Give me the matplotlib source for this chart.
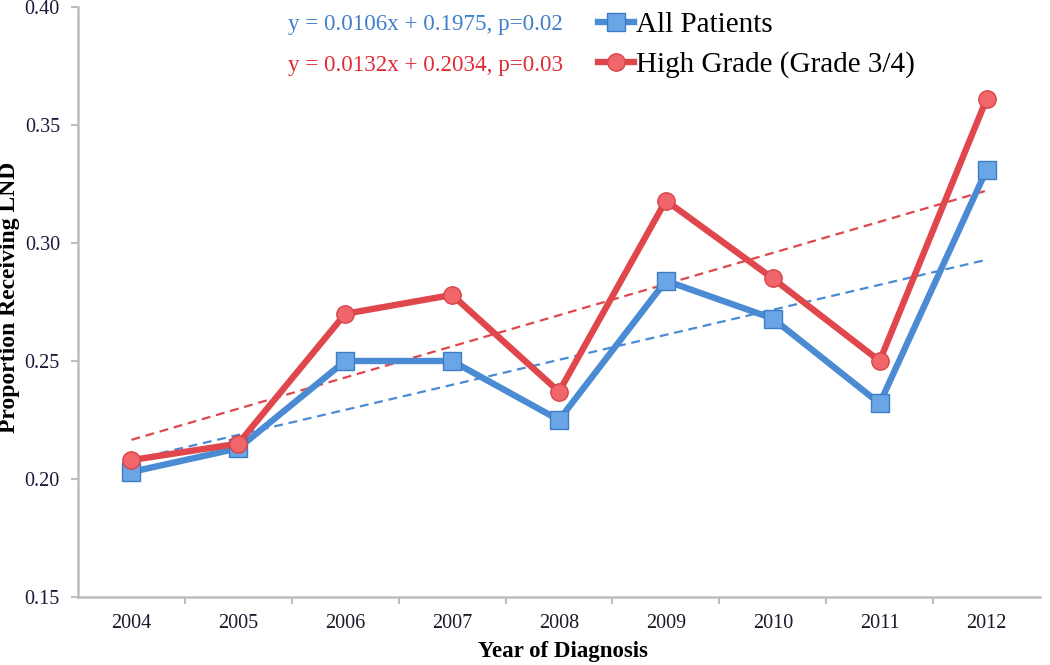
import matplotlib
matplotlib.use("Agg")
import matplotlib.pyplot as plt
from matplotlib.lines import Line2D
import numpy as np

years = ["2004", "2005", "2006", "2007", "2008", "2009", "2010", "2011", "2012"]
all_patients = [0.203, 0.213, 0.250, 0.250, 0.225, 0.284, 0.268, 0.232, 0.331]
high_grade = [0.208, 0.215, 0.270, 0.278, 0.237, 0.318, 0.285, 0.250, 0.361]
all_slope, all_intercept = 0.0106, 0.1975
high_slope, high_intercept = 0.0132, 0.2034
yticks = [0.15, 0.20, 0.25, 0.30, 0.35, 0.40]

plt.rcParams['font.family'] = ['Liberation Serif', 'DejaVu Serif']

BLUE = '#4A8BD3'
BLUE_FACE = '#6AA5E6'
BLUE_EDGE = '#3D7CC6'
RED = '#E0474C'
RED_FACE = '#F0666A'
RED_EDGE = '#D8444A'

fig = plt.figure(figsize=(10.5, 6.65), dpi=100)
ax = fig.add_axes([78/1050, 68/665, 962/1050, 590/665])

x = np.arange(len(years))
xn = x + 1  # trend line x = 1..9
ax.plot(x, all_slope * xn + all_intercept, ls=(0, (4, 2.6)), color=BLUE, lw=1.6, zorder=2)
ax.plot(x, high_slope * xn + high_intercept, ls=(0, (4, 2.6)), color=RED, lw=1.6, zorder=2)

ax.plot(x, all_patients, color=BLUE, lw=4.6, marker='s', ms=12.5,
        mfc=BLUE_FACE, mec=BLUE_EDGE, mew=1.0, zorder=3, solid_joinstyle='miter')
ax.plot(x, high_grade, color=RED, lw=4.6, marker='o', ms=12.5,
        mfc=RED_FACE, mec=RED_EDGE, mew=1.0, zorder=4)

ax.set_xlim(-0.5, len(years) - 0.5)
ax.set_ylim(0.15, 0.40)
ax.set_yticks(yticks)
ax.set_yticklabels([f"{v:.2f}" for v in yticks])
ax.set_xticks(x)
ax.set_xticklabels(years)
ax.set_xticks(np.arange(0.5, len(years) - 1, 1.0), minor=True)

for s in ['top', 'right']:
    ax.spines[s].set_visible(False)
for s in ['left', 'bottom']:
    ax.spines[s].set_color('#BDBDBD')
    ax.spines[s].set_linewidth(1.8)

ax.tick_params(axis='x', which='major', length=0, pad=12, labelsize=14.5, labelcolor='#1a1a2a')
ax.tick_params(axis='x', which='minor', length=5, width=1.5, color='#BDBDBD', direction='out')
ax.tick_params(axis='y', which='major', length=5, width=1.5, color='#BDBDBD', direction='out',
               pad=8, labelsize=14.5, labelcolor='#1a1a3a')

fig.text(563/1050, 1 - 652/665, "Year of Diagnosis", fontsize=16.5, fontweight='bold',
         ha='center', va='center')
fig.text(10/1050, 1 - 297/665, "Proportion Receiving LND", fontsize=17, fontweight='bold',
         ha='center', va='center', rotation=90)

ax.text(0.361, 0.970, "y = 0.0106x + 0.1975, p=0.02", transform=ax.transAxes,
        ha='center', va='center', fontsize=16.6, color='#3F7FCB')
ax.text(0.361, 0.900, "y = 0.0132x + 0.2034, p=0.03", transform=ax.transAxes,
        ha='center', va='center', fontsize=16.6, color='#E02B36')

handles = [
    Line2D([0], [0], color=BLUE, lw=4.6, marker='s', ms=12.5, mfc=BLUE_FACE, mec=BLUE_EDGE, mew=1.0),
    Line2D([0], [0], color=RED, lw=4.6, marker='o', ms=12.5, mfc=RED_FACE, mec=RED_EDGE, mew=1.0),
]
fig.legend(handles, ["All Patients", "High Grade (Grade 3/4)"], loc='upper left',
           bbox_to_anchor=(598/1050, 1.0 - 12/665), frameon=False, fontsize=21,
           handlelength=1.25, handletextpad=0.05, labelspacing=0.44, borderaxespad=0,
           borderpad=0)

fig.savefig("out.png", dpi=100)
